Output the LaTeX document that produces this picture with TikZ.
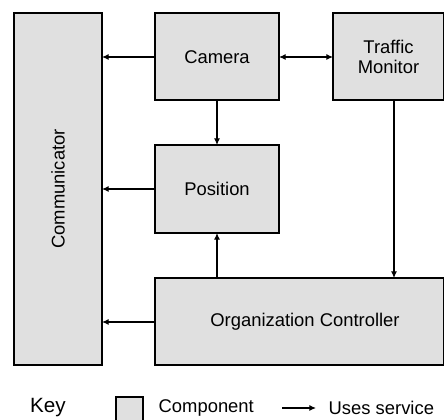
\documentclass[tikz,border=0pt]{standalone}
\usepackage{fontspec}
\setmainfont{Liberation Sans}
\usetikzlibrary{arrows.meta}
\definecolor{compfill}{HTML}{E0E0E0}
\begin{document}
\begin{tikzpicture}[x=0.75pt,y=-0.75pt,
  comp/.style={draw=black,fill=compfill,line width=0.9pt},
  lbl/.style={font=\fontsize{13.8}{15.5}\selectfont,align=center},
  uses/.style={line width=0.8pt,-{Latex[length=5pt,width=4.5pt]}},
  both/.style={line width=0.8pt,{Latex[length=5pt,width=4.5pt]}-{Latex[length=5pt,width=4.5pt]}}]
\useasboundingbox (0,0) rectangle (444,420);
% components
\draw[comp] (14,13) rectangle (102,365);
\node[lbl,rotate=90] (comm) at (58,189) {Communicator};
\draw[comp] (155,13) rectangle (279,100);
\node[lbl] (cam) at (217,57) {Camera};
\draw[comp] (333,13) rectangle (444,100);
\node[lbl] (tm) at (388.5,57) {Traffic\\Monitor};
\draw[comp] (155,145) rectangle (279,233);
\node[lbl] (pos) at (217,189) {Position};
\draw[comp] (155,278) rectangle (444,365);
\node[lbl] (org) at (305,322) {Organization Controller};
% edge anchors
\coordinate (commR1) at (102,57);
\coordinate (commR2) at (102,189);
\coordinate (commR3) at (102,322);
\coordinate (camL) at (155,57);
\coordinate (camR) at (279,57);
\coordinate (camB) at (217,100);
\coordinate (tmL) at (333,57);
\coordinate (tmB) at (394,100);
\coordinate (posL) at (155,189);
\coordinate (posT) at (217,145);
\coordinate (posB) at (217,233);
\coordinate (orgL) at (155,322);
\coordinate (orgT1) at (217,278);
\coordinate (orgT2) at (394,278);
% service usage
\draw[uses] (camL) -- (commR1);
\draw[uses] (posL) -- (commR2);
\draw[uses] (orgL) -- (commR3);
\draw[uses] (camB) -- (posT);
\draw[uses] (orgT1) -- (posB);
\draw[uses] (tmB) -- (orgT2);
\draw[both] (camR) -- (tmL);
% key
\node[font=\fontsize{15.5}{17}\selectfont] (key) at (48,408) {Key};
\draw[comp] (116,397) rectangle (143,425);
\node[lbl,anchor=west] (kc) at (154,408) {Component};
\coordinate (ka) at (282,408);
\coordinate (kb) at (316,408);
\draw[uses] (ka) -- (kb);
\node[lbl,anchor=west] (ku) at (324,408) {Uses service};
\end{tikzpicture}
\end{document}
